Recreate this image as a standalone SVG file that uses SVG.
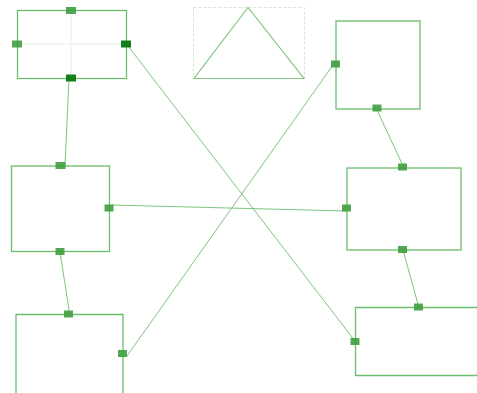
<svg xmlns="http://www.w3.org/2000/svg" width="477" height="393" viewBox="0 0 477 393">
<style>
.box{fill:#ffffff;stroke:#6abf6a;stroke-width:1.3}
.conn{fill:none;stroke:#7cc47c;stroke-width:1}
.h{fill:#3f9f3f;opacity:0.9}
.hd{fill:#12801a}
.guide{stroke:#e4f1e4;stroke-width:1}
.sel{fill:none;stroke:#cfe8cf;stroke-width:1;stroke-dasharray:3,2}
.tri{fill:none;stroke:#80c880;stroke-width:1.2}
</style>
<rect width="477" height="393" fill="#ffffff"/>
<g id="connectors">
<line class="conn" x1="69" y1="80" x2="65" y2="165"/>
<line class="conn" x1="128" y1="46" x2="355" y2="341"/>
<line class="conn" x1="333" y1="65" x2="127" y2="356"/>
<line class="conn" x1="377" y1="110" x2="404" y2="168"/>
<line class="conn" x1="112" y1="205" x2="346" y2="211"/>
<line class="conn" x1="60" y1="252" x2="70" y2="316"/>
<line class="conn" x1="403" y1="250" x2="419" y2="308"/>
</g>
<g id="nodeA">
<rect class="box" x="17.5" y="10.5" width="109" height="68"/>
<line class="guide" x1="71" y1="11" x2="71" y2="78"/>
<line class="guide" x1="18" y1="44" x2="126" y2="44"/>
<rect class="h" x="66" y="7" width="10" height="7"/>
<rect class="h" x="12" y="40.5" width="10" height="7"/>
<rect class="hd" x="121" y="40.5" width="10" height="7"/>
<rect class="hd" x="66" y="74.5" width="10" height="7"/>
</g>
<g id="triangle">
<rect class="sel" x="193.5" y="7.5" width="111" height="71"/>
<polygon class="tri" points="248,7.5 194,78.5 304,78.5"/>
</g>
<g id="nodeC">
<rect class="box" x="336" y="21" width="84" height="88"/>
<rect class="h" x="331" y="60.5" width="9" height="7"/>
<rect class="h" x="372.5" y="104.5" width="9" height="7"/>
</g>
<g id="nodeD">
<rect class="box" x="11.5" y="166" width="98" height="85.5"/>
<rect class="h" x="55.5" y="162" width="10" height="7"/>
<rect class="h" x="104.5" y="204.5" width="9" height="7"/>
<rect class="h" x="55.5" y="248" width="9" height="7"/>
</g>
<g id="nodeE">
<rect class="box" x="347" y="168" width="114" height="82"/>
<rect class="h" x="398" y="163.5" width="9" height="7"/>
<rect class="h" x="342" y="204.5" width="9" height="7"/>
<rect class="h" x="398" y="246" width="9" height="7"/>
</g>
<g id="nodeF">
<path class="box" d="M16,394 V314.5 H123 V394"/>
<rect class="h" x="64" y="310.5" width="9" height="7"/>
<rect class="h" x="118" y="350" width="9" height="7"/>
</g>
<g id="nodeG">
<path class="box" d="M478,307.5 H355.5 V375.5 H478"/>
<rect class="h" x="414" y="303.5" width="9" height="7"/>
<rect class="h" x="350.5" y="338" width="9" height="7"/>
</g>
</svg>
